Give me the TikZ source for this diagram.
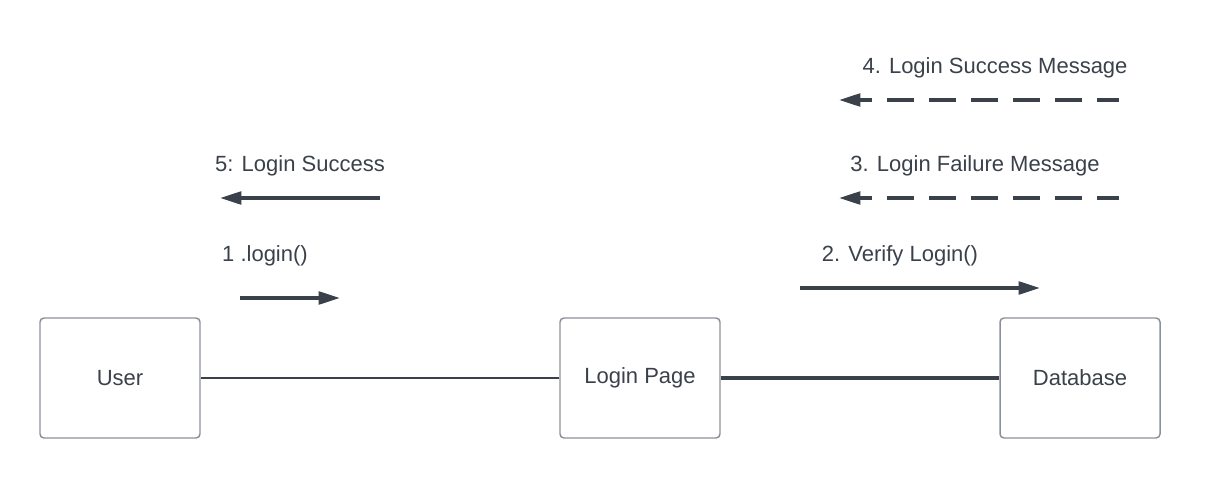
\documentclass[tikz,border=0pt]{standalone}
\usepackage{fontspec}
\setmainfont{Liberation Sans}
\usetikzlibrary{arrows.meta,positioning}
\definecolor{ink}{HTML}{3A414A}
\definecolor{edge}{HTML}{8C9199}
\tikzset{
  obj/.style={rectangle, draw=edge, line width=1.1pt, rounded corners=3pt,
    minimum width=120pt, minimum height=90pt, text=ink, font=\fontsize{16.5}{19}\selectfont},
  msg/.style={draw=ink, line width=2.5pt, -{Triangle[length=16pt,width=9.5pt]}},
  reply/.style={draw=ink, line width=2.5pt, {Triangle[length=16pt,width=9.5pt]}-,
    dash pattern=on 20.5pt off 11pt, dash phase=11pt},
  lbl/.style={text=ink, font=\fontsize{16.5}{19}\selectfont, inner sep=0pt}
}
\begin{document}
\begin{tikzpicture}[x=0.75pt,y=-0.75pt]
        \useasboundingbox (0,0) rectangle (1212,478);

        % Objects
        \node[obj] (user) at (120,378) {User};
        \node[obj] (page) at (640,378) {Login Page};
        \node[obj] (db) at (1080,378) {Database};

        % Links
        \draw[ink, line width=1.6pt] (user) -- (page);
        \draw[ink, line width=2.5pt] (page) -- (db);

        % 1 .login()
        \coordinate (login s) at (240,298);
        \coordinate (login e) at (340,298);
        \draw[msg] (login s) -- (login e);
        \node[lbl] (login l) at (265,256) {1 .login()};

        % 2. Verify Login()
        \coordinate (verify s) at (800,288);
        \coordinate (verify e) at (1040,288);
        \draw[msg] (verify s) -- (verify e);
        \node[lbl] (verify l) at (900,256) {2. Verify Login()};

        % 3. Login Failure Message
        \coordinate (fail s) at (1119,198);
        \coordinate (fail e) at (839,198);
        \draw[reply] (fail e) -- (fail s);
        \node[lbl] (fail l) at (975,166) {3. Login Failure Message};

        % 4. Login Success Message
        \coordinate (ok s) at (1119,100);
        \coordinate (ok e) at (839,100);
        \draw[reply] (ok e) -- (ok s);
        \node[lbl] (ok l) at (995,68) {4. Login Success Message};

        % 5: Login Success
        \coordinate (done s) at (380,198);
        \coordinate (done e) at (220,198);
        \draw[msg] (done s) -- (done e);
        \node[lbl] (done l) at (300,166) {5: Login Success};
    \end{tikzpicture}
\end{document}
